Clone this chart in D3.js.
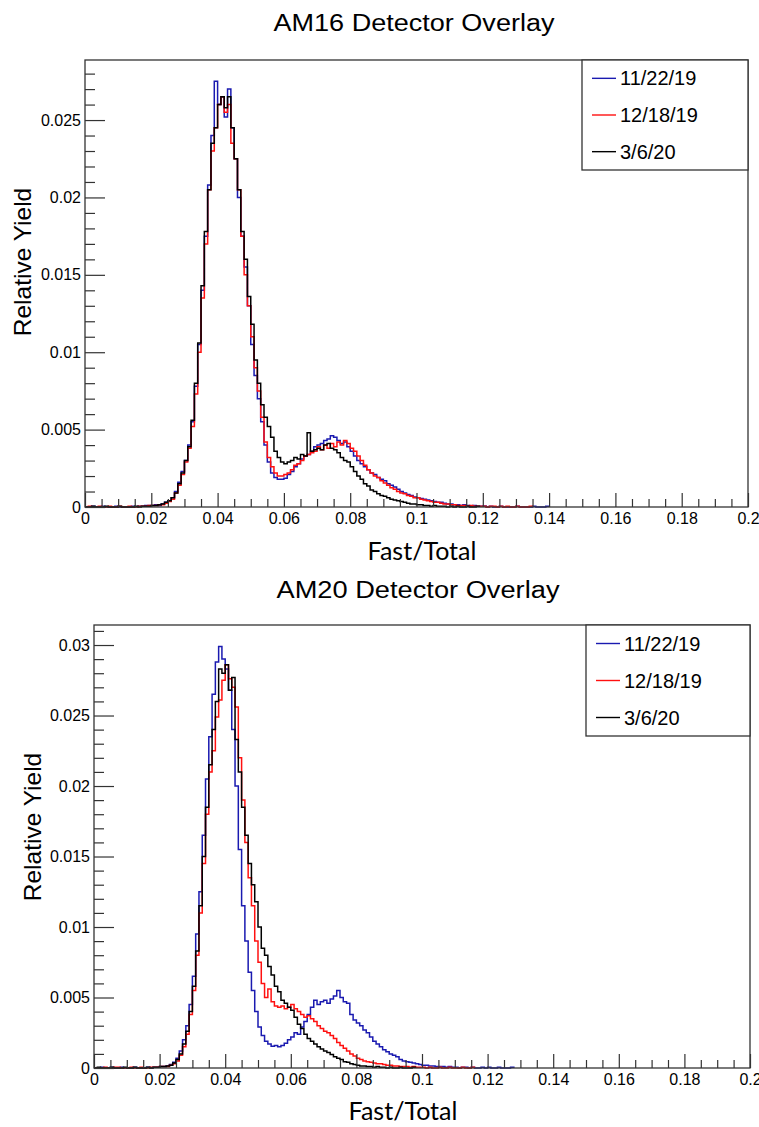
<!DOCTYPE html>
<html>
<head>
<meta charset="utf-8">
<script src="https://cdn.jsdelivr.net/npm/d3@7"></script>
<style>
  html, body { margin: 0; padding: 0; background: #ffffff; }
  svg { display: block; }
  text { font-family: "Liberation Sans", Arial, Helvetica, sans-serif; fill: #000; }
</style>
</head>
<body>
<svg id="chart" width="759" height="1127"></svg>
<script>
// ---------------- DATA ----------------
// Histogram bins of width BIN_WIDTH starting at Fast/Total = 0; values in units of YIELD_UNIT
const BIN_WIDTH = 0.001;
const YIELD_UNIT = 1e-3;

const seriesNames = ["11/22/19", "12/18/19", "3/6/20"];
const seriesColors = ["#1a1ab0", "#ff1010", "#000000"];

// AM16 detector
const am16_1122 = [0,0,0.05,0,0,0.05,0,0,0,0.05,0,0,0,0,0.05,0,0.05,0.05,0.1,0.1,
  0.1,0.15,0.1,0.2,0.3,0.4,0.6,1.0,1.6,2.3,3.0,4.0,5.5,7.8,10.5,14.0,17.5,20.8,24.0,27.5,
  26.0,26.5,25.2,27.0,24.5,22.5,20.0,17.5,15.5,13.0,10.5,8.5,7.0,5.5,4.0,2.9,2.2,1.9,1.8,1.8,
  1.85,2.1,2.3,2.6,2.8,3.1,3.3,3.4,3.6,3.9,4.0,4.1,4.3,4.4,4.6,4.5,4.3,4.1,4.2,3.9,
  3.6,3.3,3.0,2.8,2.6,2.4,2.2,2.1,1.9,1.8,1.7,1.5,1.4,1.3,1.15,1.0,0.9,0.8,0.75,0.65,
  0.6,0.55,0.5,0.45,0.4,0.35,0.3,0.3,0.25,0.2,0.2,0.15,0.15,0.1,0.15,0.1,0.05,0.1,0.05,0.05,
  0.07,0,0.05,0,0,0.05,0,0,0,0,0.05,0,0,0,0,0.05,0,0,0,0.05];
const am16_1218 = [0,0.05,0,0,0.05,0,0,0.05,0,0,0.05,0,0,0.05,0,0,0.05,0.05,0.05,0.1,
  0.1,0.1,0.15,0.15,0.25,0.35,0.5,0.9,1.4,2.1,2.9,3.8,5.2,7.3,10.0,13.5,17.0,20.5,23.0,24.5,
  26.0,26.5,25.5,26.0,23.5,22.5,20.5,17.5,15.0,13.0,11.0,9.0,7.5,5.8,4.2,3.2,2.6,2.2,2.0,2.0,
  2.1,2.2,2.4,2.7,2.8,3.0,3.3,3.4,3.5,3.6,3.9,3.7,4.0,3.8,4.1,3.9,4.2,4.0,4.3,4.1,
  3.8,3.6,3.3,3.0,2.7,2.4,2.2,2.0,1.9,1.7,1.55,1.4,1.25,1.15,1.0,0.9,0.85,0.75,0.7,0.6,
  0.6,0.5,0.45,0.4,0.35,0.3,0.3,0.25,0.2,0.2,0.15,0.15,0.1,0.1,0.1,0.05,0.1,0.05,0.05,0.05,
  0.05,0,0.05,0.05,0,0.05,0,0.05,0,0,0.05,0,0,0,0.05];
const am16_0306 = [0,0,0.05,0,0,0,0.05,0,0,0,0.05,0,0,0,0,0.05,0,0.05,0.05,0.05,
  0.1,0.1,0.15,0.2,0.3,0.4,0.6,0.9,1.5,2.2,3.0,3.9,5.6,8.0,10.6,14.3,17.8,20.5,23.5,24.5,
  26.0,26.5,25.8,26.5,24.5,22.5,20.5,17.8,16.0,13.6,11.8,9.5,8.0,6.6,5.8,5.2,4.5,3.6,3.2,2.9,
  2.8,2.9,3.0,3.2,3.1,3.4,3.3,4.8,3.6,3.7,3.8,3.7,4.0,4.1,3.8,3.7,3.5,3.2,3.0,2.9,
  2.6,2.3,2.0,1.8,1.5,1.35,1.1,1.0,0.85,0.75,0.7,0.6,0.5,0.45,0.4,0.35,0.3,0.25,0.2,0.2,
  0.15,0.15,0.1,0.1,0.05,0.1,0.05,0.05,0.05,0,0.05,0,0.05,0,0,0.05,0,0,0.05];

// AM20 detector
const am20_1122 = [0,0,0.05,0,0,0.05,0,0,0.05,0,0,0,0.05,0,0,0,0.05,0,0.05,0.05,
  0.1,0.1,0.15,0.25,0.4,0.7,1.2,2.0,3.0,4.5,6.5,9.5,12.5,16.5,20.5,23.5,26.5,28.8,29.9,29.0,
  28.3,26.8,24.0,20.0,15.5,11.5,9.0,6.8,5.5,4.0,2.9,2.3,1.9,1.7,1.55,1.6,1.5,1.6,1.75,2.0,
  2.2,2.5,2.4,2.9,3.3,3.8,4.3,4.8,4.5,4.7,4.8,4.6,4.9,5.1,5.5,5.0,4.7,4.6,3.8,3.4,
  3.2,3.0,2.7,2.5,2.2,1.9,1.7,1.5,1.3,1.15,1.0,0.9,0.8,0.6,0.5,0.45,0.4,0.35,0.3,0.25,
  0.2,0.2,0.15,0.15,0.1,0.1,0.1,0.05,0.1,0.05,0.05,0,0.05,0.05,0,0.05,0,0,0.05,0,
  0.05,0,0,0.05,0,0,0,0.05];
const am20_1218 = [0,0,0,0.05,0,0,0.05,0.05,0,0,0,0.05,0,0,0.05,0,0,0.05,0.05,0.05,
  0.1,0.1,0.1,0.2,0.3,0.5,0.9,1.5,2.4,3.8,5.5,8.0,11.0,14.5,18.0,21.0,22.5,24.9,26.1,27.5,
  28.6,27.6,27.0,25.6,22.0,19.0,16.0,13.5,11.5,9.0,7.5,6.0,5.0,5.6,4.7,4.4,4.3,4.4,4.2,4.3,
  4.5,4.2,4.0,3.8,3.6,3.7,3.5,3.3,3.0,2.8,2.6,2.5,2.3,2.1,1.8,1.6,1.4,1.2,1.0,0.85,
  0.7,0.6,0.5,0.45,0.4,0.35,0.3,0.3,0.25,0.2,0.2,0.15,0.15,0.1,0.1,0.1,0.05,0.1,0.05,0.05,
  0.05,0,0.05,0,0,0.05,0,0,0.05,0,0,0,0.05,0,0,0.05];
const am20_0306 = [0,0.05,0,0,0,0.05,0,0,0,0.05,0,0,0.05,0,0,0,0.05,0,0.05,0.05,
  0.1,0.1,0.15,0.2,0.35,0.6,1.0,1.7,2.6,4.0,5.8,8.3,11.5,15.0,18.5,21.5,24.0,26.0,28.3,28.0,
  28.6,26.8,27.7,23.3,21.0,18.5,16.5,14.5,13.0,11.8,10.0,8.5,8.0,7.2,6.6,5.8,5.4,4.8,4.6,4.3,
  4.1,3.6,3.1,2.8,2.4,2.1,1.9,1.7,1.5,1.35,1.2,1.1,0.95,0.8,0.7,0.6,0.45,0.4,0.3,0.25,
  0.2,0.15,0.15,0.1,0.1,0.05,0.1,0.05,0.05,0,0.05,0,0,0.05,0,0,0,0.05];

// Axis ticks and labels
const xTickValues = [0, 0.02, 0.04, 0.06, 0.08, 0.1, 0.12, 0.14, 0.16, 0.18, 0.2];
const xTickLabels = ["0", "0.02", "0.04", "0.06", "0.08", "0.1", "0.12", "0.14", "0.16", "0.18", "0.2"];
const am16YTickValues = [0, 0.005, 0.01, 0.015, 0.02, 0.025];
const am16YTickLabels = ["0", "0.005", "0.01", "0.015", "0.02", "0.025"];
const am20YTickValues = [0, 0.005, 0.01, 0.015, 0.02, 0.025, 0.03];
const am20YTickLabels = ["0", "0.005", "0.01", "0.015", "0.02", "0.025", "0.03"];

const titles = ["AM16 Detector Overlay", "AM20 Detector Overlay"];
const xAxisTitle = "Fast/Total";
const yAxisTitle = "Relative Yield";

// ---------------- LAYOUT ----------------
const panels = [
  { title: titles[0], data: [am16_1122, am16_1218, am16_0306],
    yTicks: am16YTickValues, yLabels: am16YTickLabels, yMax: 0.02888,
    left: 85, right: 748, top: 60, bottom: 507,
    titleX: 414, titleY: 31, titleW: 281,
    xTitleX: 422, xTitleY: 560, yTitleX: 31, yTitleY: 262,
    legend: { x: 582, y: 60, w: 166, h: 110 } },
  { title: titles[1], data: [am20_1122, am20_1218, am20_0306],
    yTicks: am20YTickValues, yLabels: am20YTickLabels, yMax: 0.03142,
    left: 94, right: 750, top: 625, bottom: 1068,
    titleX: 418, titleY: 598, titleW: 283,
    xTitleX: 403, xTitleY: 1120, yTitleX: 41, yTitleY: 827,
    legend: { x: 586, y: 625, w: 164, h: 111 } }
];

const svg = d3.select("#chart");
const frameColor = "#333";

panels.forEach(p => {
  const g = svg.append("g");
  const x = d3.scaleLinear().domain([0, 0.2]).range([p.left, p.right]);
  const y = d3.scaleLinear().domain([0, p.yMax]).range([p.bottom, p.top]);

  // Title
  g.append("text")
    .attr("x", p.titleX).attr("y", p.titleY)
    .attr("text-anchor", "middle")
    .attr("font-size", 23)
    .attr("textLength", p.titleW).attr("lengthAdjust", "spacingAndGlyphs")
    .text(p.title);

  // Histograms (step lines)
  const line = d3.line()
    .x(d => x(d[0])).y(d => y(d[1]))
    .curve(d3.curveStepAfter);
  p.data.forEach((vals, i) => {
    const pts = vals.map((v, k) => [k * BIN_WIDTH, v * YIELD_UNIT]);
    pts.push([vals.length * BIN_WIDTH, vals[vals.length - 1] * YIELD_UNIT]);
    pts.push([vals.length * BIN_WIDTH, 0]);
    g.append("path")
      .attr("d", line(pts))
      .attr("fill", "none")
      .attr("stroke", seriesColors[i])
      .attr("stroke-width", 1.5)
      .attr("stroke-linejoin", "miter");
  });

  // Frame
  g.append("rect")
    .attr("x", p.left).attr("y", p.top)
    .attr("width", p.right - p.left).attr("height", p.bottom - p.top)
    .attr("fill", "none").attr("stroke", frameColor).attr("stroke-width", 1.3);

  // X axis major + minor ticks (pointing up, inside frame)
  const xMinor = d3.range(0, 0.2001, 0.005).filter(v => Math.abs(v / 0.02 - Math.round(v / 0.02)) > 1e-6);
  const xAxis = d3.axisBottom(x).tickValues(xTickValues)
    .tickFormat((d, i) => xTickLabels[i]).tickSizeInner(-14).tickSizeOuter(0).tickPadding(6);
  const xg = g.append("g").attr("transform", `translate(0,${p.bottom})`).call(xAxis);
  const xAxisMinor = d3.axisBottom(x).tickValues(xMinor).tickFormat("").tickSizeInner(-8).tickSizeOuter(0);
  const xgm = g.append("g").attr("transform", `translate(0,${p.bottom})`).call(xAxisMinor);

  // Y axis major + minor ticks (pointing right, inside frame)
  const yMinor = d3.range(0, p.yMax, 0.001).filter(v => Math.abs(v / 0.005 - Math.round(v / 0.005)) > 1e-6);
  const yAxis = d3.axisLeft(y).tickValues(p.yTicks)
    .tickFormat((d, i) => p.yLabels[i]).tickSizeInner(-20).tickSizeOuter(0).tickPadding(4);
  const yg = g.append("g").attr("transform", `translate(${p.left},0)`).call(yAxis);
  const yAxisMinor = d3.axisLeft(y).tickValues(yMinor).tickFormat("").tickSizeInner(-10).tickSizeOuter(0);
  const ygm = g.append("g").attr("transform", `translate(${p.left},0)`).call(yAxisMinor);

  [xg, xgm, yg, ygm].forEach(a => {
    a.select(".domain").remove();
    a.selectAll(".tick line").attr("stroke", frameColor).attr("stroke-width", 1.2);
    a.selectAll(".tick text").attr("font-family", "Liberation Sans, Arial, sans-serif")
      .attr("font-size", 16).attr("fill", "#222");
  });

  // Axis titles
  g.append("text")
    .attr("x", p.xTitleX).attr("y", p.xTitleY)
    .attr("text-anchor", "middle")
    .style("font-family", "Lato, 'Open Sans', sans-serif")
    .attr("font-size", 25)
    .text(xAxisTitle);
  g.append("text")
    .attr("transform", `translate(${p.yTitleX},${p.yTitleY}) rotate(-90)`)
    .attr("text-anchor", "middle")
    .attr("font-size", 24.5)
    .text(yAxisTitle);

  // Legend
  const L = p.legend;
  const lg = g.append("g");
  lg.append("rect").attr("x", L.x).attr("y", L.y).attr("width", L.w).attr("height", L.h)
    .attr("fill", "#fff").attr("stroke", frameColor).attr("stroke-width", 1.3);
  seriesNames.forEach((name, i) => {
    const cy = L.y + L.h * (i + 0.5) / 3;
    lg.append("line").attr("x1", L.x + 10).attr("x2", L.x + 34)
      .attr("y1", cy).attr("y2", cy)
      .attr("stroke", seriesColors[i]).attr("stroke-width", 1.4);
    lg.append("text").attr("x", L.x + 38).attr("y", cy + 7)
      .attr("font-size", 20)
      .text(name);
  });
});
</script>
</body>
</html>
